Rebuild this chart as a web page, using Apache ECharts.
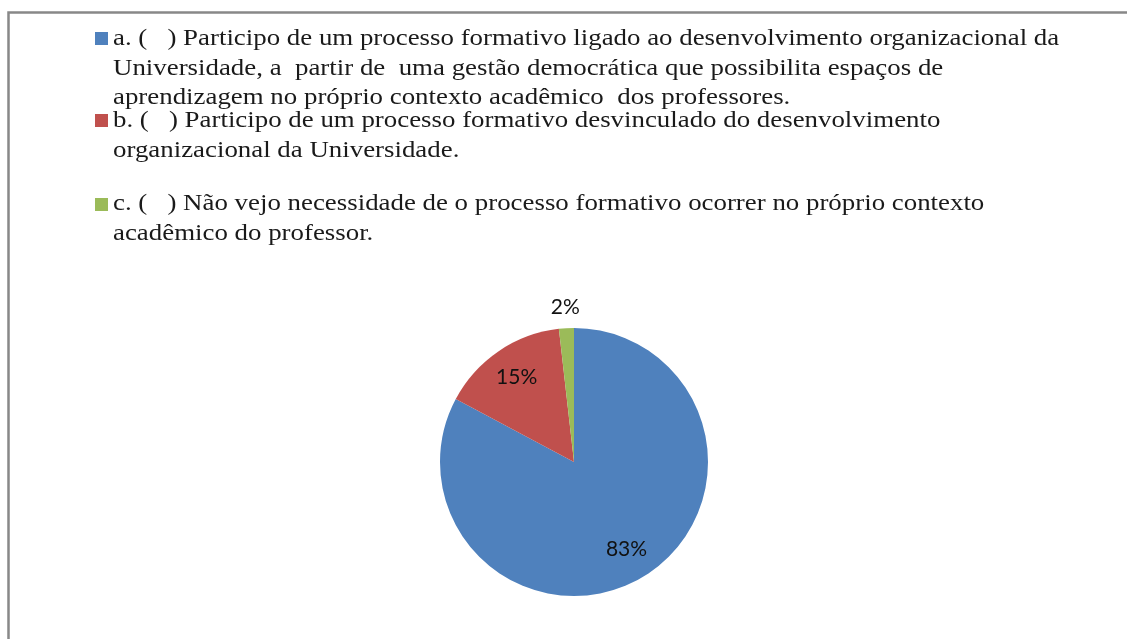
<!DOCTYPE html>
<html>
<head>
<meta charset="utf-8">
<script src="https://cdn.jsdelivr.net/npm/echarts@6/dist/echarts.min.js"></script>
<style>
html, body { margin: 0; padding: 0; background: #fff; }
#chart { width: 1127px; height: 639px; }
</style>
</head>
<body>
<div id="chart"></div>
<script>
var categories = [
    'a. (   ) Participo de um processo formativo ligado ao desenvolvimento organizacional da\nUniversidade, a  partir de  uma gestão democrática que possibilita espaços de\naprendizagem no próprio contexto acadêmico  dos professores.',
    'b. (   ) Participo de um processo formativo desvinculado do desenvolvimento\norganizacional da Universidade.',
    'c. (   ) Não vejo necessidade de o processo formativo ocorrer no próprio contexto\nacadêmico do professor.'
];
var values = [82.8, 15.4, 1.8];
var colors = ['#4F81BD', '#C0504D', '#9BBB59'];

(function () {
    var myChart = echarts.init(document.getElementById('chart'));

    // legend rows: marker top and text top (px)
    var markerTop = [32, 114, 198];
    var textTop = [24.5, 106.5, 189.5];
    var lineH = 29.5;

    // one legend per row, markers only; the text is drawn as stretched graphic text
    var legends = categories.map(function (name, i) {
        return {
            data: [name],
            left: 95,
            top: markerTop[i],
            padding: 0,
            itemWidth: 13,
            itemHeight: 13,
            icon: 'rect',
            selectedMode: false,
            formatter: function () { return ''; }
        };
    });

    var texts = categories.map(function (name, i) {
        return {
            type: 'text',
            x: 113,
            y: textTop[i],
            scaleX: 1.168,
            silent: true,
            style: {
                text: name,
                x: 0,
                y: 0,
                verticalAlign: 'top',
                font: '23px "Liberation Serif"',
                lineHeight: lineH,
                fill: '#1a1a1a'
            }
        };
    });

    var data = categories.map(function (c, i) {
        return { name: c, value: values[i], itemStyle: { color: colors[i] } };
    });

    function labelData(show) {
        return categories.map(function (c, i) {
            return { name: c, value: values[i], label: { show: show[i] } };
        });
    }

    var labelStyle = {
        position: 'inside',
        fontFamily: 'Lato',
        fontSize: 21,
        color: '#111',
        formatter: function (p) {
            return Math.round(p.percent) + '%';
        }
    };

    option = {
        animation: false,
        color: colors,
        legend: legends,
        graphic: [{
            type: 'rect',
            shape: { x: 8.5, y: 12.5, width: 1300, height: 800 },
            style: { fill: 'none', stroke: '#888', lineWidth: 2.5 },
            silent: true
        }].concat(texts),
        series: [
            {
                type: 'pie',
                center: [574, 462],
                radius: 134,
                startAngle: 90,
                label: { show: false },
                labelLine: { show: false },
                data: data
            },
            {
                // transparent ring, only to place the labels of a and b
                type: 'pie',
                center: [574, 462],
                radius: 198,
                startAngle: 90,
                silent: true,
                avoidLabelOverlap: false,
                legendHoverLink: false,
                itemStyle: { color: 'transparent' },
                label: labelStyle,
                labelLine: { show: false },
                data: labelData([true, true, false])
            },
            {
                // same for the small slice, its label sits outside
                type: 'pie',
                center: [574, 462],
                radius: 304,
                startAngle: 90,
                silent: true,
                avoidLabelOverlap: false,
                legendHoverLink: false,
                itemStyle: { color: 'transparent' },
                label: labelStyle,
                labelLine: { show: false },
                data: labelData([false, false, true])
            }
        ]
    };

    myChart.setOption(option);
})();
</script>
</body>
</html>
